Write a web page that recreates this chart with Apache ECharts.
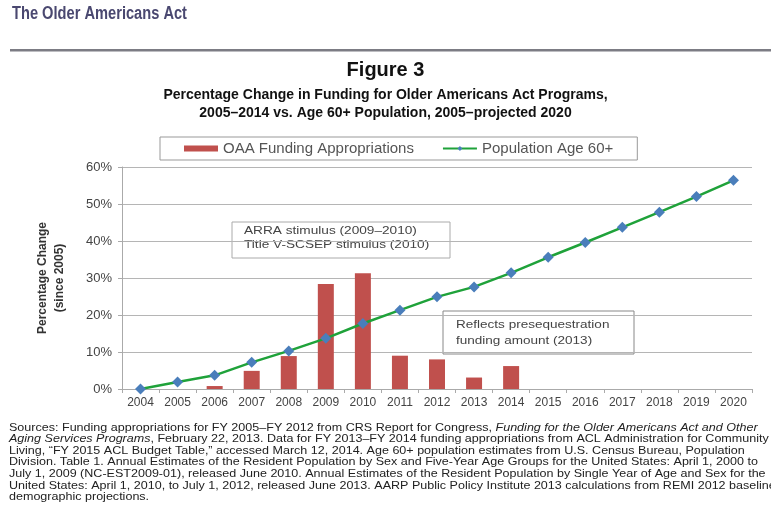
<!DOCTYPE html>
<html>
<head>
<meta charset="utf-8">
<script src="https://cdn.jsdelivr.net/npm/echarts@6/dist/echarts.min.js"></script>
<style>
html,body{margin:0;padding:0;background:#fff;}
#chart{width:771px;height:527px;}
</style>
</head>
<body>
<div id="chart"></div>
<script>
const years = ['2004','2005','2006','2007','2008','2009','2010','2011','2012','2013','2014','2015','2016','2017','2018','2019','2020'];
const oaaFunding = [null, 0, 0.8, 4.9, 8.9, 28.4, 31.3, 9.0, 8.0, 3.1, 6.2, null, null, null, null, null, null];
const population60 = [0, 1.9, 3.7, 7.2, 10.3, 13.7, 17.7, 21.3, 24.9, 27.6, 31.4, 35.6, 39.6, 43.7, 47.8, 52.0, 56.4];
const sourceLines = [
  ['Sources: Funding appropriations for FY 2005\u2013FY 2012 from CRS Report for Congress, ', 'Funding for the Older Americans Act and Other'],
  ['', 'Aging Services Programs', ', February 22, 2013. Data for FY 2013\u2013FY 2014 funding appropriations from ACL Administration for Community'],
  ['Living, \u201cFY 2015 ACL Budget Table,\u201d accessed March 12, 2014. Age 60+ population estimates from U.S. Census Bureau, Population'],
  ['Division. Table 1. Annual Estimates of the Resident Population by Sex and Five-Year Age Groups for the United States: April 1, 2000 to'],
  ['July 1, 2009 (NC-EST2009-01), released June 2010. Annual Estimates of the Resident Population by Single Year of Age and Sex for the'],
  ['United States: April 1, 2010, to July 1, 2012, released June 2013. AARP Public Policy Institute 2013 calculations from REMI 2012 baseline'],
  ['demographic projections.']
];

const chart = echarts.init(document.getElementById('chart'), null, {renderer:'canvas'});
const FONT = '"Liberation Sans", Arial, sans-serif';

function fitScale(text, font, target){
  const c = document.createElement('canvas').getContext('2d');
  c.font = font;
  const w = c.measureText(text).width;
  return w > 0 ? target / w : 1;
}
const headerFont = 'bold 18px ' + FONT;
const headerScale = fitScale('The Older Americans Act', headerFont, 175);

const graphics = [
  {type:'text', x:12, y:5, scaleX:headerScale, style:{text:'The Older Americans Act', font:headerFont, fill:'#4a4870'}},
  {type:'rect', shape:{x:10, y:49, width:761, height:2.5}, style:{fill:'#7c7c84'}},
  {type:'text', left:'center', top:60, style:{text:'Figure 3', font:'bold 20px ' + FONT, fill:'#111'}},
  {type:'text', left:'center', top:86, style:{text:'Percentage Change in Funding for Older Americans Act Programs,\n2005\u20132014 vs. Age 60+ Population, 2005\u2013projected 2020', font:'bold 14px ' + FONT, fill:'#111', textAlign:'center', lineHeight:18}},
  {type:'rect', shape:{x:232, y:222, width:218, height:36}, style:{fill:'#fff', stroke:'#aaa', lineWidth:1}},
  {type:'text', x:244, y:224, scaleX:1.24, style:{text:'ARRA stimulus (2009\u20132010)\nTitle V-SCSEP stimulus (2010)', font:'11px ' + FONT, fill:'#444', lineHeight:14}},
  {type:'rect', shape:{x:443, y:311, width:191, height:43}, style:{fill:'#fff', stroke:'#888', lineWidth:1}},
  {type:'text', x:456, y:317, scaleX:1.23, style:{text:'Reflects presequestration\nfunding amount (2013)', font:'11px ' + FONT, fill:'#444', lineHeight:16}}
];

sourceLines.forEach(function(parts, i){
  const rich = {n:{font:'11px ' + FONT, fill:'#222'}, it:{font:'italic 11px ' + FONT, fill:'#222'}};
  let txt = '';
  if (parts.length === 2 && i === 0) {
    txt = '{n|' + parts[0] + '}{it|' + parts[1] + '}';
  } else if (parts.length === 3) {
    txt = '{it|' + parts[1] + '}{n|' + parts[2] + '}';
  } else {
    txt = '{n|' + parts[0] + '}';
  }
  graphics.push({type:'text', x:9, y:422 + i*11.6, scaleX:1.14, style:{text:txt, rich:rich}});
});

chart.setOption({
  backgroundColor:'#fff',
  animation:false,
  textStyle:{fontFamily:FONT},
  legend:{
    left:160, top:137,
    padding:[4, 24, 4, 24],
    borderColor:'#999', borderWidth:1,
    itemGap:28, itemWidth:34, itemHeight:6,
    textStyle:{fontSize:15, color:'#555', fontFamily:FONT},
    data:[{name:'OAA Funding Appropriations', icon:'rect'}, {name:'Population Age 60+'}]
  },
  grid:{left:122, right:19, top:167, bottom:138},
  xAxis:{
    type:'category', data:years, boundaryGap:true,
    axisLine:{lineStyle:{color:'#aaa'}},
    axisTick:{show:true, length:4, lineStyle:{color:'#aaa'}},
    axisLabel:{fontSize:12, color:'#444', margin:8}
  },
  yAxis:{
    type:'value', min:0, max:60, interval:10,
    name:'Percentage Change\n(since 2005)', nameLocation:'middle', nameGap:54, nameRotate:90,
    nameTextStyle:{fontSize:12, fontWeight:'bold', color:'#333', lineHeight:17},
    axisLine:{show:true, lineStyle:{color:'#aaa'}},
    axisTick:{show:true, length:4, lineStyle:{color:'#aaa'}},
    axisLabel:{formatter:'{value}%', fontSize:13, color:'#444', margin:10},
    splitLine:{lineStyle:{color:'#b5b5b5', width:1}}
  },
  series:[
    {
      name:'OAA Funding Appropriations', type:'bar', data:oaaFunding, barWidth:16,
      itemStyle:{color:'#c0504d'}
    },
    {
      name:'Population Age 60+', type:'line', data:population60,
      symbol:'diamond', symbolSize:11, showAllSymbol:true,
      lineStyle:{color:'#1fa23a', width:2.5},
      itemStyle:{color:'#4a7ebb', borderWidth:0},
      z:5
    }
  ],
  graphic:graphics
});
</script>
</body>
</html>
